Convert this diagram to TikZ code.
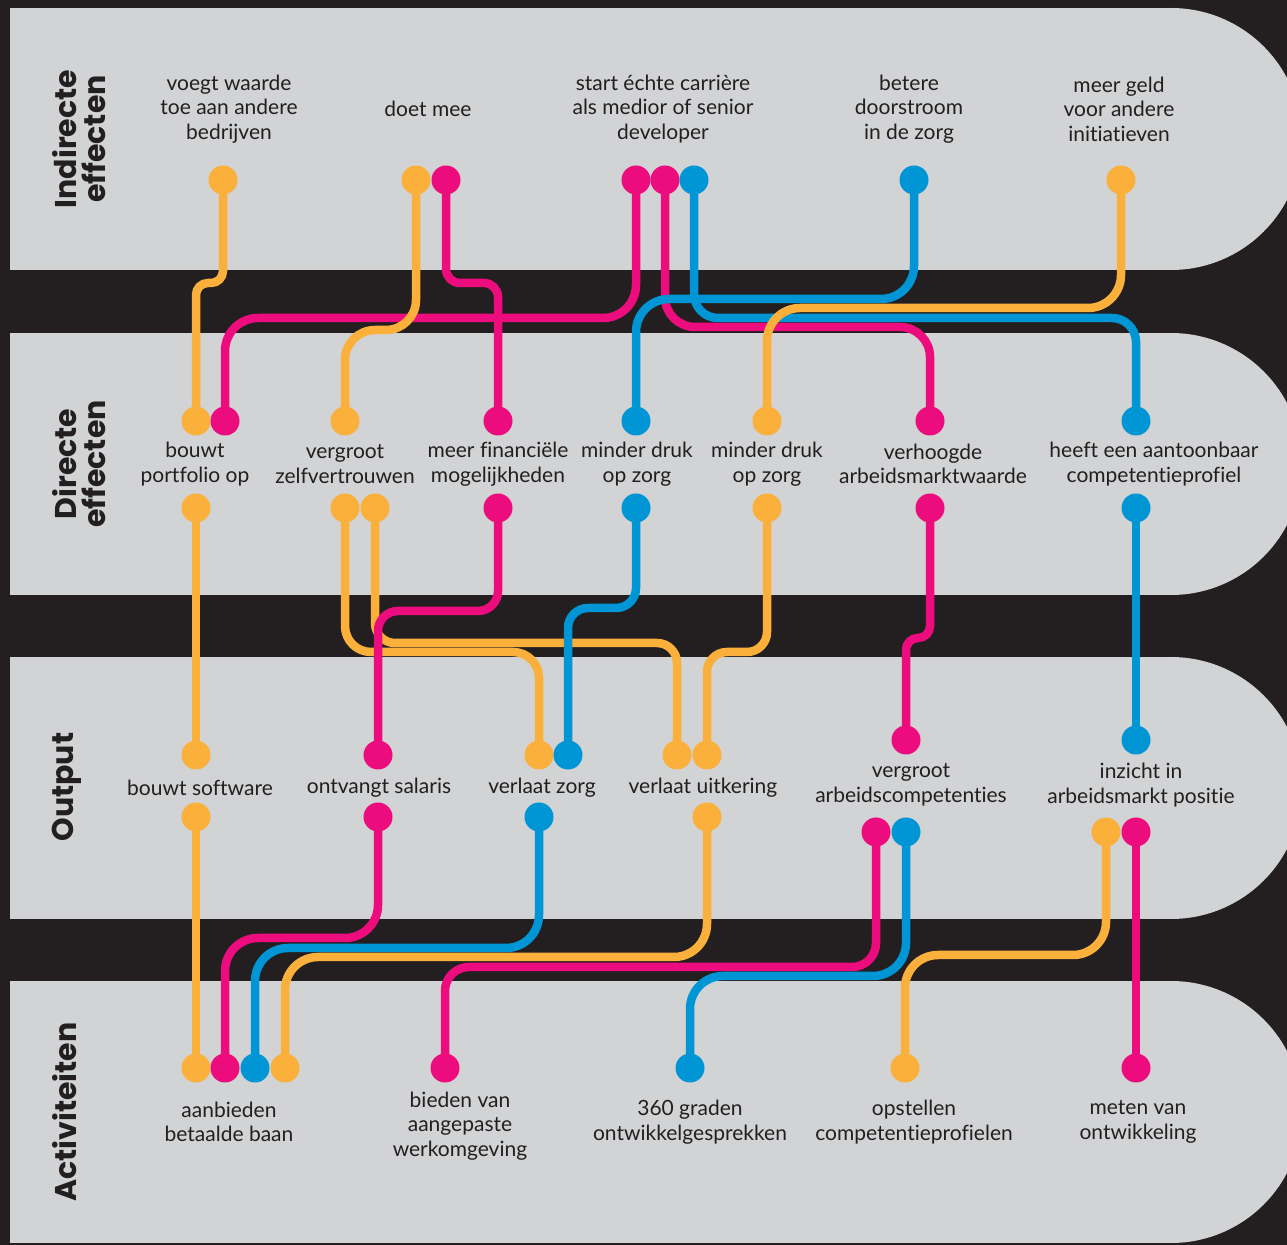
\documentclass[tikz,border=0pt]{standalone}
\usepackage{fontspec}
\setmainfont{Lato}[Ligatures=NoCommon]
\newfontfamily\titlefont{Poppins}
\usepackage{tikz}
\usetikzlibrary{positioning,backgrounds}
\definecolor{lndark}{RGB}{35,31,32}
\definecolor{lnband}{RGB}{209,211,212}
\definecolor{lnorange}{RGB}{251,176,59}
\definecolor{lnpink}{RGB}{237,12,125}
\definecolor{lnblue}{RGB}{0,150,214}

\tikzset{
  dot/.style={circle, inner sep=0pt, minimum size=14.5pt},
  lbl/.style={align=center, text=lndark, font=\fontsize{10.5}{12.25}\selectfont},
  lanetitle/.style={rotate=90, anchor=north, inner sep=0pt, align=center, text=lndark, font=\titlefont\bfseries\fontsize{15}{14.5}\selectfont},
  wire/.style={line width=4.25pt, rounded corners=16.5pt}
}

\begin{document}
\begin{tikzpicture}[x=0.5pt, y=-0.5pt]
    \useasboundingbox (0,0) rectangle (1287,1245);

    % Fondo y bandas
    \begin{scope}[on background layer]
        \fill[lndark] (0,0) rectangle (1287,1245);
        \foreach \ly in {8,333,657,981} {
            \fill[lnband] (10,\ly) rectangle (1171,\ly+262);
            \fill[lnband] (1171,\ly+131) circle[radius=65.5pt];
        }
    \end{scope}

    % Titulos de las bandas
    \node[lanetitle] (tind) at (52,139) {Indirecte\\effecten};
    \node[lanetitle] (tdir) at (52,464) {Directe\\effecten};
    \node[lanetitle] (tout) at (52,787) {Output};
    \node[lanetitle] (tact) at (52,1112) {Activiteiten};

    % Textos
    \node[lbl] (i1) at (229,109) {voegt waarde\\toe aan andere\\bedrijven};
    \node[lbl] (i2) at (428,109) {doet mee};
    \node[lbl] (i3) at (663,109) {start échte carrière\\als medior of senior\\developer};
    \node[lbl] (i4) at (909,109) {betere\\doorstroom\\in de zorg};
    \node[lbl] (i5) at (1119,109) {meer geld\\voor andere\\initiatieven};

    \node[lbl] (d1) at (195,464) {bouwt\\portfolio op};
    \node[lbl] (d2) at (345,464) {vergroot\\zelfvertrouwen};
    \node[lbl] (d3) at (498,464) {meer financiële\\mogelijkheden};
    \node[lbl] (d4) at (637,464) {minder druk\\op zorg};
    \node[lbl] (d5) at (767,464) {minder druk\\op zorg};
    \node[lbl] (d6) at (933,464) {verhoogde\\arbeidsmarktwaarde};
    \node[lbl] (d7) at (1154,464) {heeft een aantoonbaar\\competentieprofiel};

    \node[lbl] (o1) at (200,788) {bouwt software};
    \node[lbl] (o2) at (379,788) {ontvangt salaris};
    \node[lbl] (o3) at (542,788) {verlaat zorg};
    \node[lbl] (o4) at (703,788) {verlaat uitkering};
    \node[lbl] (o5) at (911,785) {vergroot\\arbeidscompetenties};
    \node[lbl] (o6) at (1141,785) {inzicht in\\arbeidsmarkt positie};

    \node[lbl] (a1) at (229,1122) {aanbieden\\betaalde baan};
    \node[lbl] (a2) at (460,1126) {bieden van\\aangepaste\\werkomgeving};
    \node[lbl] (a3) at (690,1122) {360 graden\\ontwikkelgesprekken};
    \node[lbl] (a4) at (914,1122) {opstellen\\competentieprofielen};
    \node[lbl] (a5) at (1138,1122) {meten van\\ontwikkeling};

    % Puntos
    \foreach \nm/\cl/\px/\py in {i1o/lnorange/223/180, i2o/lnorange/416/180, i2p/lnpink/446/180,
        i3p/lnpink/636/180, i3q/lnpink/665/180, i3b/lnblue/694/180, i4b/lnblue/914/180, i5o/lnorange/1121/180}
        \node[dot, fill=\cl] (\nm) at (\px,\py) {};
    \foreach \nm/\cl/\px/\py in {d1to/lnorange/196/421, d1tp/lnpink/225/421, d2to/lnorange/345/421,
        d3tp/lnpink/498/421, d4tb/lnblue/636/421, d5to/lnorange/767/421, d6tp/lnpink/930/421, d7tb/lnblue/1136/421,
        d1bo/lnorange/196/508, d2bo/lnorange/345/508, d2bq/lnorange/375/508, d3bp/lnpink/498/508,
        d4bb/lnblue/636/508, d5bo/lnorange/767/508, d6bp/lnpink/930/508, d7bb/lnblue/1136/508}
        \node[dot, fill=\cl] (\nm) at (\px,\py) {};
    \foreach \nm/\cl/\px/\py in {o1to/lnorange/196/755, o2tp/lnpink/378/755, o3to/lnorange/539/755,
        o3tb/lnblue/568/755, o4to/lnorange/677/755, o4tq/lnorange/707/755, o5tp/lnpink/906/740, o6tb/lnblue/1136/740,
        o1bo/lnorange/196/817, o2bp/lnpink/378/817, o3bb/lnblue/539/817, o4bo/lnorange/707/817,
        o5bp/lnpink/876/832, o5bb/lnblue/906/832, o6bo/lnorange/1106/832, o6bp/lnpink/1136/832}
        \node[dot, fill=\cl] (\nm) at (\px,\py) {};
    \foreach \nm/\cl/\px/\py in {a1o/lnorange/196/1068, a1p/lnpink/225/1068, a1b/lnblue/255/1068,
        a1q/lnorange/285/1068, a2p/lnpink/445/1068, a3b/lnblue/690/1068, a4o/lnorange/905/1068, a5p/lnpink/1136/1068}
        \node[dot, fill=\cl] (\nm) at (\px,\py) {};

    % Lineas entre bandas
    \begin{scope}[on background layer]
        % indirecte -> directe
        \draw[wire, lnpink] (i3p.center) -- (i3p |- 0,318) -| (d1tp.center);
        \draw[wire, lnpink, rounded corners=7pt] (i2p.center) -- (i2p |- 0,283) -| (d3tp.center);
        \draw[wire, lnpink, rounded corners=15pt] (i3q.center) -- (i3q |- 0,327) -| (d6tp.center);
        \draw[wire, lnblue, rounded corners=12pt] (i3b.center) -- (i3b |- 0,318) -| (d7tb.center);
        \draw[wire, lnblue] (i4b.center) -- (i4b |- 0,299) -| (d4tb.center);
        \draw[wire, lnorange, rounded corners=6pt] (i1o.center) -- (i1o |- 0,283) -| (d1to.center);
        \draw[wire, lnorange, rounded corners=15pt] (i2o.center) -- (i2o |- 0,330) -| (d2to.center);
        \draw[wire, lnorange] (i5o.center) -- (i5o |- 0,308) -| (d5to.center);

        % directe -> output
        \draw[wire, lnorange] (d1bo.center) -- (o1to.center);
        \draw[wire, lnorange, rounded corners=13pt] (d2bo.center) -- (d2bo |- 0,652) -| (o3to.center);
        \draw[wire, lnorange, rounded corners=10pt] (d2bq.center) -- (d2bq |- 0,643) -| (o4to.center);
        \draw[wire, lnorange, rounded corners=10pt] (d5bo.center) -- (d5bo |- 0,652) -| (o4tq.center);
        \draw[wire, lnpink, rounded corners=10pt] (d3bp.center) -- (d3bp |- 0,611) -| (o2tp.center);
        \draw[wire, lnpink, rounded corners=6pt] (d6bp.center) -- (d6bp |- 0,638) -| (o5tp.center);
        \draw[wire, lnblue, rounded corners=10pt] (d4bb.center) -- (d4bb |- 0,608) -| (o3tb.center);
        \draw[wire, lnblue] (d7bb.center) -- (o6tb.center);

        % output -> activiteiten
        \draw[wire, lnorange] (o1bo.center) -- (a1o.center);
        \draw[wire, lnpink] (o2bp.center) -- (o2bp |- 0,938) -| (a1p.center);
        \draw[wire, lnblue] (o3bb.center) -- (o3bb |- 0,948) -| (a1b.center);
        \draw[wire, lnorange] (o4bo.center) -- (o4bo |- 0,957) -| (a1q.center);
        \draw[wire, lnpink, rounded corners=12pt] (o5bp.center) -- (o5bp |- 0,967) -| (a2p.center);
        \draw[wire, lnblue] (o5bb.center) -- (o5bb |- 0,976) -| (a3b.center);
        \draw[wire, lnorange] (o6bo.center) -- (o6bo |- 0,955) -| (a4o.center);
        \draw[wire, lnpink] (o6bp.center) -- (a5p.center);
    \end{scope}
\end{tikzpicture}
\end{document}
